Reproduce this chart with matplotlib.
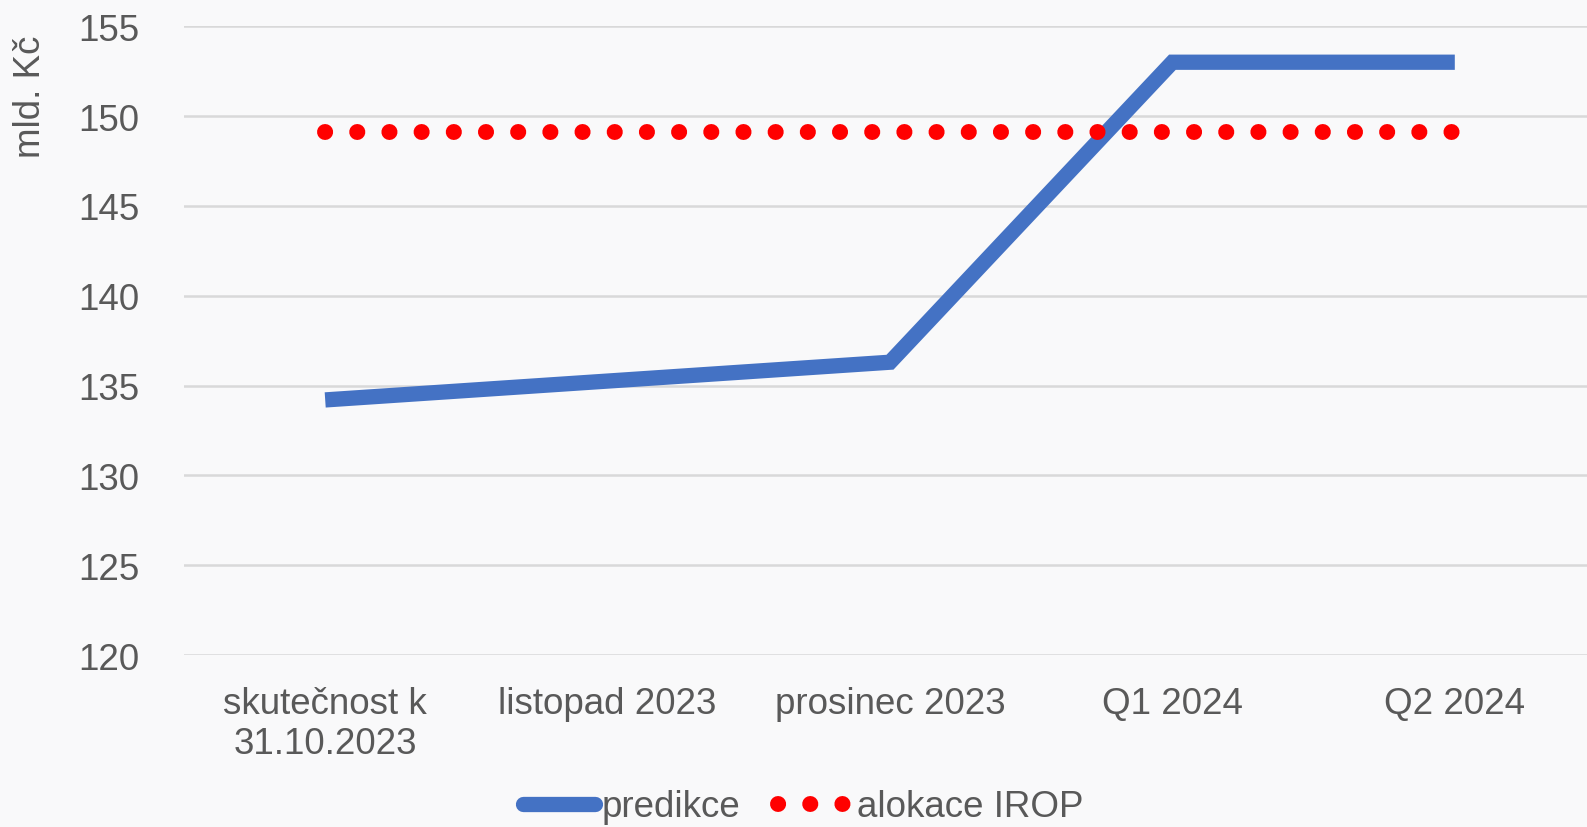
import matplotlib
matplotlib.use("Agg")
import matplotlib.pyplot as plt
from matplotlib.lines import Line2D

categories = ["skutečnost k\n31.10.2023", "listopad 2023", "prosinec 2023", "Q1 2024", "Q2 2024"]
predikce = [134.2, 135.25, 136.3, 153.0, 153.0]
alokace = [149.1, 149.1, 149.1, 149.1, 149.1]
yticks = [120, 125, 130, 135, 140, 145, 150, 155]

plt.rcParams['font.family'] = ['Liberation Sans', 'DejaVu Sans']
W, H = 1587, 828
fig = plt.figure(figsize=(W/100, H/100), dpi=100)
fig.patch.set_facecolor('#f9f9fa')
ax = fig.add_axes([184/W, 1 - 656/H, (1596-184)/W, (656-27.3)/H])
ax.set_facecolor('none')

dot_style = (0, (0.01, 2.005))
x = list(range(len(categories)))
ax.plot(x, predikce, color='#4472c4', lw=11, solid_capstyle='butt', solid_joinstyle='miter', zorder=3)
ax.plot(x, alokace, color='#ff0000', lw=11.5, linestyle=dot_style, dash_capstyle='round', zorder=4)

ax.set_xlim(-0.5, 4.5)
ax.set_ylim(120, 155)
ax.set_yticks(yticks)
ax.set_xticks(x)
ax.set_xticklabels(categories)
ax.tick_params(axis='both', length=0, labelsize=26.5, colors='#595959')
ax.tick_params(axis='x', pad=22)
ax.tick_params(axis='y', pad=32)
for lab in ax.get_xticklabels():
    lab.set_linespacing(1.2)
ax.grid(axis='y', color='#d9d9d9', lw=1.8)
ax.set_axisbelow(True)
for s in ax.spines.values():
    s.set_visible(False)

fig.text(30/W, 1 - 97/H, "mld. Kč", rotation=90, ha='center', va='center', fontsize=26.5, color='#595959')

handles = [Line2D([0], [0], color='#4472c4', lw=11, solid_capstyle='round'),
           Line2D([0], [0], color='#ff0000', lw=11.5, linestyle=dot_style, dash_capstyle='round')]
leg = fig.legend(handles, ["predikce", "alokace IROP"], loc='center', bbox_to_anchor=(803/W, 1 - 808/H),
                 ncol=2, frameon=False, fontsize=26.5, handlelength=1.95, handletextpad=0.2, columnspacing=1.0,
                 borderpad=0)
for t in leg.get_texts():
    t.set_color('#595959')

fig.savefig("out.png", dpi=100, facecolor=fig.get_facecolor())
